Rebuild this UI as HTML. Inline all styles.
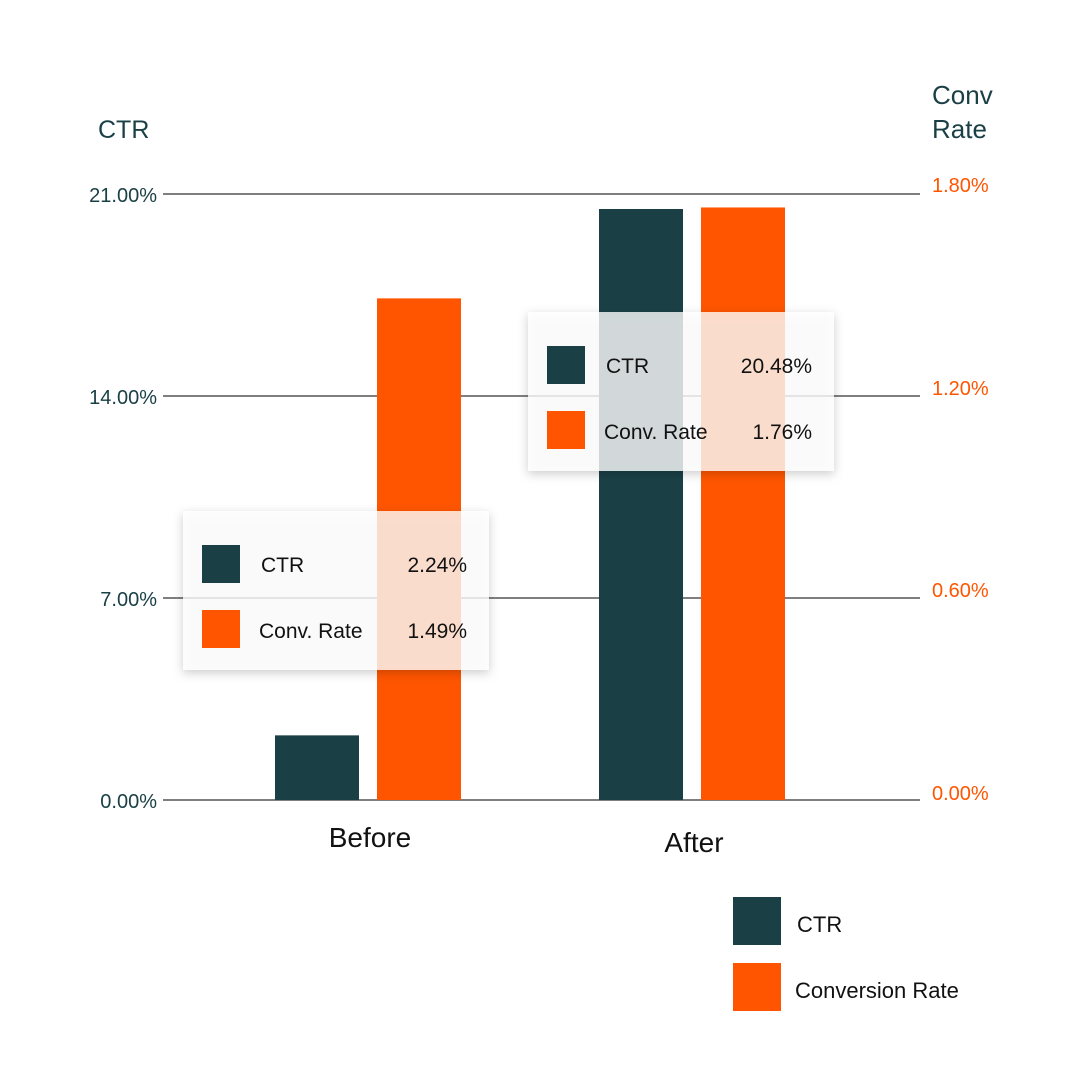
<!DOCTYPE html>
<html><head><meta charset="utf-8"><style>
body{margin:0;background:#fff;font-family:"Liberation Sans",sans-serif}
svg text{font-family:"Liberation Sans",sans-serif}
</style></head><body>
<svg width="1080" height="1080" viewBox="0 0 1080 1080">
<defs><filter id="sh" x="-10%" y="-10%" width="120%" height="130%"><feDropShadow dx="0" dy="3" stdDeviation="5" flood-color="#000" flood-opacity="0.25"/></filter></defs>
<g id="grid"></g><g id="bars"></g><g id="tips"></g>
<text x="98" y="138" font-size="25" fill="#1a3f45">CTR</text>
<text x="932" y="104" font-size="26" fill="#1a3f45">Conv</text>
<text x="932" y="138" font-size="26" fill="#1a3f45">Rate</text>
<rect x="733" y="897" width="48" height="48" fill="#1a4046"/>
<text x="797" y="932" font-size="22" fill="#111">CTR</text>
<rect x="733" y="963" width="48" height="48" fill="#ff5500"/>
<text x="795" y="998" font-size="22" fill="#111">Conversion Rate</text>
</svg>
<script>
const categories=["Before","After"];
const ctrValues=[2.24,20.48];
const convValues=[1.49,1.76];
const leftTicks=[0,7,14,21];
const rightTicks=[0,0.6,1.2,1.8];
const NS="http://www.w3.org/2000/svg";
const y0=800,yTop=194;
const yL=v=>y0-(v/21)*(y0-yTop);
const yR=v=>y0-(v/1.8)*(y0-yTop);
const xCat=i=>370+i*324;
function mk(tag,attrs,parent,txt){const e=document.createElementNS(NS,tag);for(const k in attrs)e.setAttribute(k,attrs[k]);if(txt!=null)e.textContent=txt;parent.appendChild(e);return e;}
const grid=document.getElementById('grid'),bars=document.getElementById('bars'),tips=document.getElementById('tips');
leftTicks.forEach((t,i)=>{
  const l=mk('line',{x1:163,x2:920,y1:yL(t),y2:yL(t),stroke:'#333','stroke-width':1.3},grid);
  
  
  const a=mk('text',{x:157,y:yL(t)+8,'font-size':20,fill:'#1a4046','text-anchor':'end'},grid,t.toFixed(2)+'%');
  
  
});
rightTicks.forEach(t=>{
  const a=mk('text',{x:932,y:yR(t)+0,'font-size':20,fill:'#ff5500'},grid,t.toFixed(2)+'%');
  a.setAttribute('y',yR(t)+ (t===0?0:-2)+ (t===0?-1:0)+ 0 + 0);
  a.setAttribute('y',yR(t)+(t===1.8?-2:(t===0?0:-1)) + 0);
  
  
});
categories.forEach((c,i)=>{
  const cx=xCat(i);
  const b1=mk('rect',{x:cx-95,y:yL(ctrValues[i]),width:84,height:y0-yL(ctrValues[i]),fill:'#1a4046'},bars);
  
  
  const b2=mk('rect',{x:cx+7,y:yR(convValues[i]),width:84,height:y0-yR(convValues[i]),fill:'#ff5500'},bars);
  
  
  const lab=mk('text',{x:cx,y:847+i*5,'font-size':28,fill:'#111','text-anchor':'middle'},bars,c);
  
  
});
const tipPos=[[183,511],[528,312]];
categories.forEach((c,i)=>{
  const [tx,ty]=tipPos[i];
  const g=mk('g',{},tips);
  
  
  mk('rect',{x:tx,y:ty,width:306,height:159,fill:'rgba(255,255,255,0.78)',filter:'url(#sh)'},g);
  mk('rect',{x:tx+19,y:ty+34,width:38,height:38,fill:'#1a4046'},g);
  mk('rect',{x:tx+19,y:ty+99,width:38,height:38,fill:'#ff5500'},g);
  mk('text',{x:tx+78,y:ty+61,'font-size':21,fill:'#111'},g,'CTR');
  mk('text',{x:tx+284,y:ty+61,'font-size':21,fill:'#111','text-anchor':'end'},g,ctrValues[i].toFixed(2)+'%');
  mk('text',{x:tx+76,y:ty+127,'font-size':21,fill:'#111'},g,'Conv. Rate');
  mk('text',{x:tx+284,y:ty+127,'font-size':21,fill:'#111','text-anchor':'end'},g,convValues[i].toFixed(2)+'%');
});
</script>
</body></html>
